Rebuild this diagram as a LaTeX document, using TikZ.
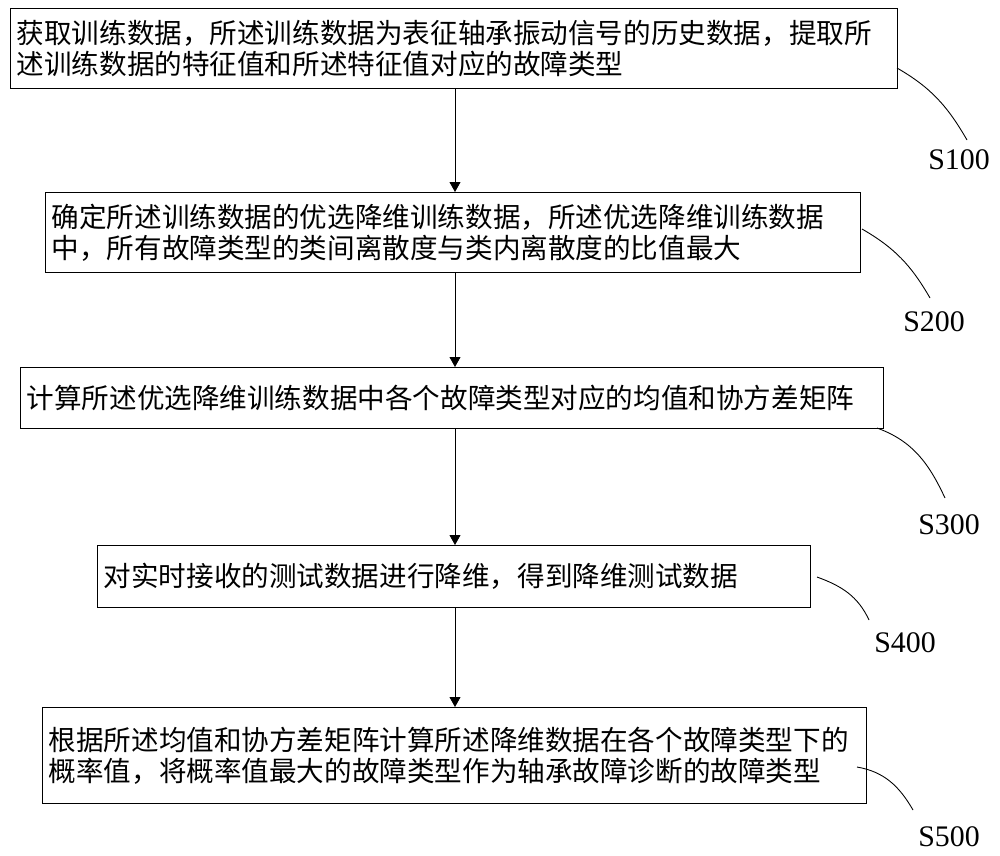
\documentclass[tikz,border=0pt]{standalone}
\usepackage{fontspec}
\setmainfont{Liberation Serif}
\newfontfamily\cjk{Noto Sans CJK SC}
\usetikzlibrary{arrows.meta}
\tikzset{stepbox/.style={draw,line width=0.8pt,anchor=north west,inner xsep=0.12cm,inner ysep=0pt,align=left,font=\cjk\fontsize{15.7}{18}\selectfont},
  steplabel/.style={inner sep=0pt,font=\fontsize{17}{20}\selectfont},
  flow/.style={line width=0.5pt,-{Triangle[length=0.2cm,width=0.22cm]}}}
\newcommand{\stepbox}[6]{\node[stepbox,minimum width={#4*0.02cm},minimum height={#5*0.02cm},text width={(#4-12)*0.02cm}] (#1) at (#2,#3) {#6};}
\newcommand{\steplabel}[4]{\node[steplabel] (#1) at (#2,#3) {#4};}
\newcommand{\leader}[4]{\draw[line width=0.5pt] (#1) to[out=#3,in=#4] (#2);}
\newcommand{\flow}[2]{\draw[flow] (#1.south -| axis) -- (#2.north -| axis);}

\begin{document}
\begin{tikzpicture}[x=0.02cm,y=-0.02cm]
    \useasboundingbox (0,0) rectangle (1000,855);
    \coordinate (axis) at (455,0);
    \stepbox{b1}{10}{8}{887}{80}{获取训练数据，所述训练数据为表征轴承振动信号的历史数据，提取所\\述训练数据的特征值和所述特征值对应的故障类型}
    \stepbox{b2}{45}{192}{815}{80}{确定所述训练数据的优选降维训练数据，所述优选降维训练数据\\中，所有故障类型的类间离散度与类内离散度的比值最大}
    \stepbox{b3}{20}{367}{863}{61}{计算所述优选降维训练数据中各个故障类型对应的均值和协方差矩阵}
    \stepbox{b4}{97}{545}{713}{62}{对实时接收的测试数据进行降维，得到降维测试数据}
    \stepbox{b5}{42}{707}{824}{96}{根据所述均值和协方差矩阵计算所述降维数据在各个故障类型下的\\概率值，将概率值最大的故障类型作为轴承故障诊断的故障类型}
    \flow{b1}{b2}\flow{b2}{b3}\flow{b3}{b4}\flow{b4}{b5}
    \steplabel{s100}{959}{160}{S100}    \steplabel{s200}{934}{322}{S200}
    \steplabel{s300}{949}{525}{S300}    \steplabel{s400}{905}{643}{S400}
    \steplabel{s500}{949}{837}{S500}
    % leader curves from the boxes to the step labels
    \coordinate (l1a) at (897,68);  \coordinate (l1b) at (967,140);
    \coordinate (l2a) at (862,229); \coordinate (l2b) at (930,298);
    \coordinate (l3a) at (877,428); \coordinate (l3b) at (945,498);
    \coordinate (l4a) at (817,577); \coordinate (l4b) at (869,620);
    \coordinate (l5a) at (857,767); \coordinate (l5b) at (913,810);
    \leader{l1a}{l1b}{-30}{120}\leader{l2a}{l2b}{-30}{120}
    \leader{l3a}{l3b}{-20}{115}\leader{l4a}{l4b}{-20}{115}
    \leader{l5a}{l5b}{-10}{120}
\end{tikzpicture}
\end{document}
